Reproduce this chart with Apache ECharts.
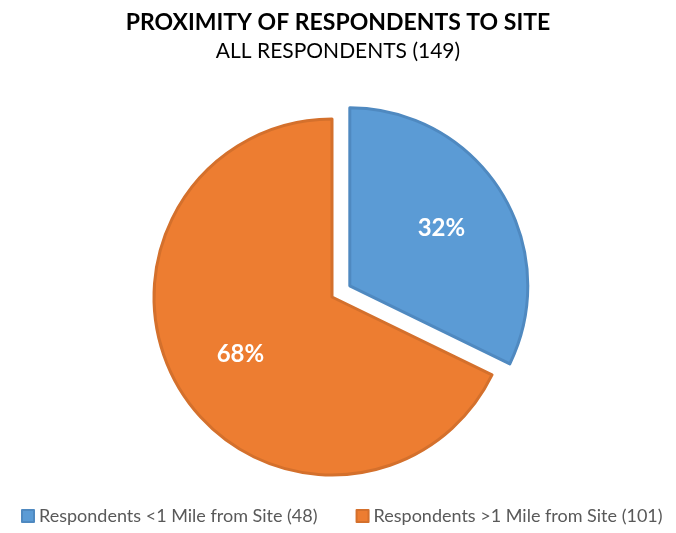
<!DOCTYPE html>
<html><head><meta charset="utf-8">
<script src="https://cdn.jsdelivr.net/npm/echarts@6/dist/echarts.min.js"></script>
<style>html,body{margin:0;padding:0;background:#fff}#c{width:676px;height:533px}</style>
</head><body><div id="c"></div>
<script>
const categories = ['Respondents <1 Mile from Site (48)', 'Respondents >1 Mile from Site (101)'];
const values = [48, 101];
const colors = ['#5b9bd5', '#ed7d31'];
const borders = ['#4f89c0', '#d4702c'];
const titleText = 'PROXIMITY OF RESPONDENTS TO SITE';
const subtitleText = 'ALL RESPONDENTS (149)';

const chart = echarts.init(document.getElementById('c'));
const total = values.reduce((a, b) => a + b, 0);
const dataMain = categories.map((n, i) => ({
  name: n, value: values[i], selected: i === 0,
  itemStyle: { color: colors[i], borderColor: borders[i], borderWidth: 3 }
}));
const dataLabel = categories.map((n, i) => ({ name: n, value: values[i], selected: i === 0 }));
chart.setOption({
  animation: false,
  title: [
    { text: titleText, left: 'center', top: 6, textStyle: { fontFamily: 'Lato', fontWeight: 'bold', fontSize: 23, color: '#000' } },
    { text: subtitleText, left: 'center', top: 36, textStyle: { fontFamily: 'Lato', fontWeight: 'normal', fontSize: 21, color: '#000' } }
  ],
  legend: {
    bottom: 8, left: 21, width: 660, padding: 0, itemWidth: 12, itemHeight: 12, itemGap: 38, icon: 'rect',
    orient: 'horizontal',
    data: categories,
    textStyle: { fontFamily: 'Lato', fontSize: 18, color: '#595959' }
  },
  series: [
    {
      type: 'pie', center: [332, 297], radius: [0, 178], startAngle: 90, clockwise: true,
      selectedMode: 'single', selectedOffset: 21, silent: true,
      label: { show: false }, labelLine: { show: false },
      data: dataMain
    },
    {
      type: 'pie', center: [332, 297], radius: [60, 150], startAngle: 90, clockwise: true,
      selectedMode: 'single', selectedOffset: 21, silent: true, legendHoverLink: false,
      itemStyle: { color: 'rgba(0,0,0,0)' },
      label: {
        show: true, position: 'inside', color: '#fff', fontFamily: 'Lato', fontWeight: 'bold', fontSize: 24,
        formatter: p => Math.round(p.value / total * 100) + '%'
      },
      labelLine: { show: false },
      data: dataLabel
    }
  ]
});
</script></body></html>
